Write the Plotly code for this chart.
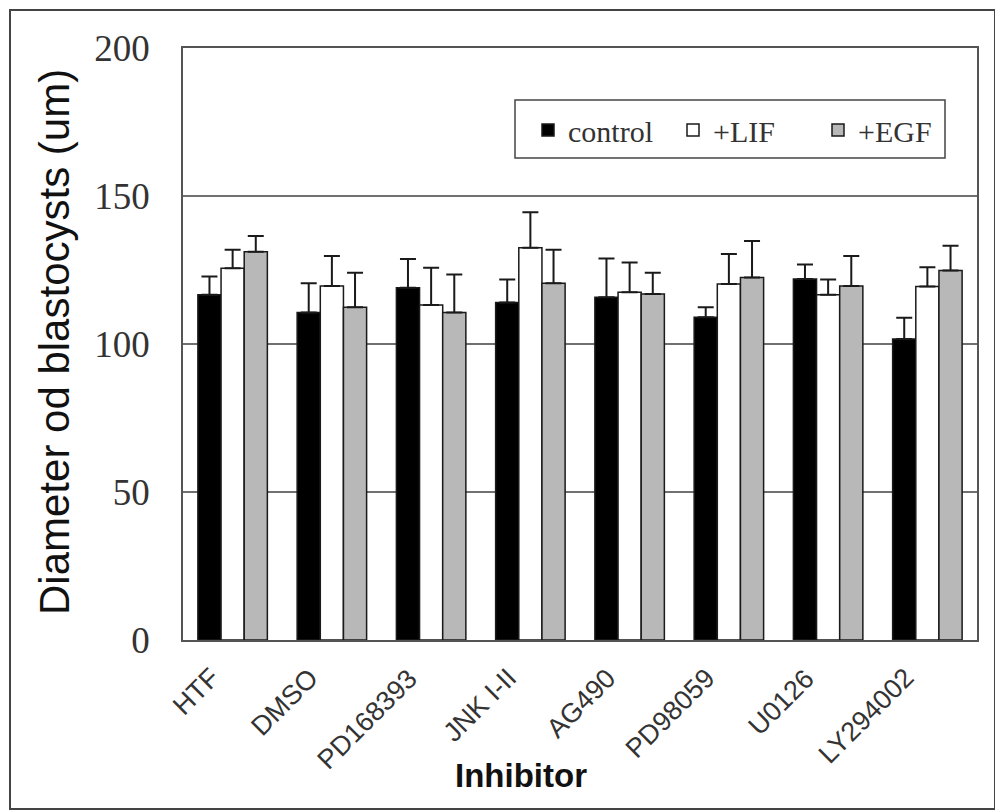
import plotly.graph_objects as go

categories = ["HTF", "DMSO", "PD168393", "JNK I-II", "AG490", "PD98059", "U0126", "LY294002"]
control = [116.6, 110.6, 119.0, 114.0, 115.8, 109.0, 122.0, 101.7]
control_err = [6.2, 9.9, 9.7, 7.8, 13.1, 3.4, 4.9, 7.2]
lif = [125.6, 119.6, 113.2, 132.5, 117.5, 120.3, 116.6, 119.4]
lif_err = [6.2, 10.1, 12.6, 12.0, 10.0, 10.1, 5.2, 6.5]
egf = [131.2, 112.4, 110.6, 120.5, 116.9, 122.5, 119.6, 124.8]
egf_err = [5.3, 11.7, 12.9, 11.3, 7.2, 12.3, 10.1, 8.4]

series = [
    ("control", control, control_err, "#000000"),
    ("+LIF", lif, lif_err, "#ffffff"),
    ("+EGF", egf, egf_err, "#b8b8b8"),
]

fig = go.Figure()
for name, vals, errs, color in series:
    fig.add_trace(go.Bar(
        name=name, x=categories, y=vals,
        marker=dict(color=color, line=dict(color="#1a1a1a", width=1.5)),
        error_y=dict(type="data", symmetric=False, array=errs,
                     arrayminus=[0] * len(errs), color="#1a1a1a",
                     thickness=2, width=8),
    ))

# page body has an 8px margin; positions below are given in screen pixels
OFF = 8
W, H = 995, 804
L, R, T, B = 175, 26, 40, 172
pw, ph = W - L - R, H - T - B

def px(x):
    return (x - OFF - L) / pw

def py(y):
    return (H - B - (y - OFF)) / ph

annotations = [
    dict(text=c, xref="x", yref="paper", x=c, y=0,
         xanchor="right", yanchor="top", xshift=-5, yshift=-20,
         textangle=-45, showarrow=False,
         font=dict(family="Liberation Sans", size=27, color="#333333"))
    for c in categories
]
annotations += [
    dict(text="<b>Inhibitor</b>", xref="paper", yref="paper",
         x=px(521), y=py(775), xanchor="center", yanchor="middle",
         showarrow=False,
         font=dict(family="Liberation Sans", size=33, color="#111111")),
    dict(text="Diameter od blastocysts (um)", xref="paper", yref="paper",
         x=px(54), y=py(342), xanchor="center", yanchor="middle",
         textangle=-90, showarrow=False,
         font=dict(family="Liberation Sans", size=42, color="#111111")),
]

fig.update_layout(
    width=W, height=H,
    margin=dict(l=L, r=R, t=T, b=B, autoexpand=False),
    paper_bgcolor="white", plot_bgcolor="white",
    barmode="group", bargap=0.30, bargroupgap=0,
    showlegend=True,
    legend=dict(
        orientation="h", x=px(528), y=py(130), xanchor="left", yanchor="middle",
        borderwidth=0, bgcolor="rgba(0,0,0,0)",
        font=dict(family="Liberation Serif", size=30, color="#333333"),
        entrywidth=100,
    ),
    xaxis=dict(
        automargin=False, showticklabels=False,
        type="category", categoryorder="array", categoryarray=categories,
        range=[-0.5, len(categories) - 0.5], autorange=False,
        showline=True, linecolor="#555555", linewidth=1.5, mirror=True,
        ticks="",
    ),
    yaxis=dict(
        automargin=False,
        range=[0, 200], tickvals=[0, 50, 100, 150, 200],
        tickfont=dict(family="Liberation Serif", size=37, color="#333333"),
        showline=True, linecolor="#555555", linewidth=1.5, mirror=True,
        showgrid=True, gridcolor="#707070", gridwidth=1.8,
        ticks="", ticklabelstandoff=24,
    ),
    annotations=annotations,
    shapes=[
        dict(type="rect", xref="paper", yref="paper",
             x0=px(10), x1=px(995), y0=py(809), y1=py(10),
             line=dict(color="#444444", width=2)),
        dict(type="rect", xref="paper", yref="paper",
             x0=px(515), x1=px(945), y0=py(158), y1=py(100),
             line=dict(color="#444444", width=1.5), fillcolor="white",
             layer="below"),
    ],
)

fig.write_html("out.html")
